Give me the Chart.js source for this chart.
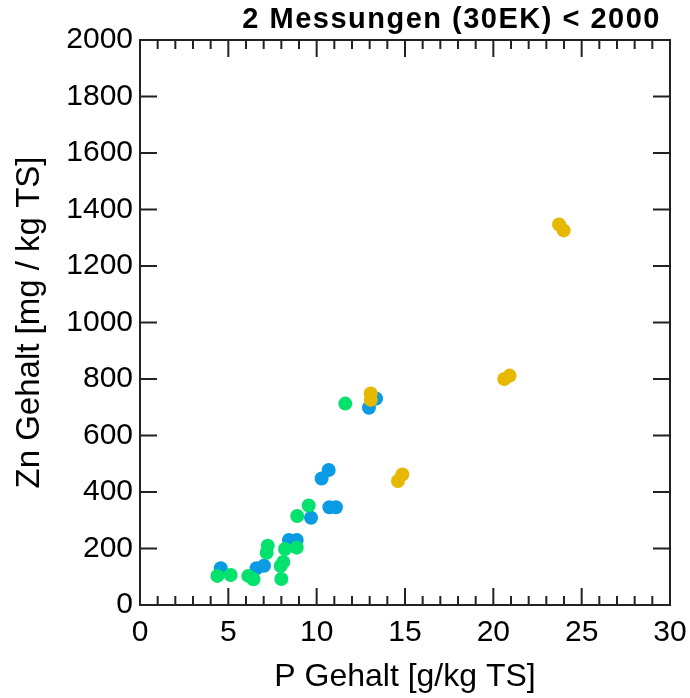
<!DOCTYPE html>
<html>
<head>
<meta charset="utf-8">
<script src="https://cdn.jsdelivr.net/npm/chart.js@4"></script>
<style>
  body{ margin:0; background:#fff; }
  #wrap{ width:690px; height:698px; }
</style>
</head>
<body>
<div id="wrap"><canvas id="chart" width="690" height="698"></canvas></div>
<script>
//--------------------------------------------------
// DATA
//--------------------------------------------------
const chartTitle = "2 Messungen (30EK) < 2000";
const xLabel = "P Gehalt [g/kg TS]";
const yLabel = "Zn Gehalt [mg / kg TS]";

const blueX = [4.57, 6.6, 7.02, 8.43, 8.87, 9.68, 10.28, 10.68, 10.72, 11.09, 12.96, 13.36];
const blueY = [130, 130, 139, 230, 230, 309, 448, 478, 346, 346, 698, 731];

const greenX = [4.38, 5.13, 6.13, 6.42, 7.17, 7.23, 7.96, 8.11, 8.0, 8.21, 8.87, 8.9, 9.55, 11.62];
const greenY = [103, 106, 103, 91, 185, 210, 138, 152, 92, 198, 203, 315, 352, 713];

const goldX = [13.06, 13.06, 14.6, 14.85, 20.62, 20.92, 23.72, 23.98];
const goldY = [749, 726, 439, 462, 800, 812, 1347, 1326];

const xTicks = [0, 5, 10, 15, 20, 25, 30];
const yTicks = [0, 200, 400, 600, 800, 1000, 1200, 1400, 1600, 1800, 2000];

//--------------------------------------------------
// HELPERS
//--------------------------------------------------
const FONT = "'Liberation Sans', Arial, sans-serif";

function pts(xs, ys){
  return xs.map((x,i)=>({x:x, y:ys[i]}));
}

function series(xs, ys, color, order){
  return {
    data: pts(xs, ys),
    backgroundColor: color,
    borderColor: color,
    pointRadius: 7,
    pointHoverRadius: 7,
    borderWidth: 0,
    order: order
  };
}

// frame, inward ticks and title
const framePlugin = {
  id: "frame",
  afterDraw(chart){
    const ctx = chart.ctx;
    const a = chart.chartArea;
    const xs = chart.scales.x, ys = chart.scales.y;
    ctx.save();
    ctx.strokeStyle = "#222";
    ctx.lineWidth = 2;
    ctx.strokeRect(a.left, a.top, a.right - a.left, a.bottom - a.top);

    ctx.beginPath();
    for(let v = 0; v <= 30; v++){
      const px = xs.getPixelForValue(v);
      const len = v % 5 === 0 ? 17 : 9;
      ctx.moveTo(px, a.bottom); ctx.lineTo(px, a.bottom - len);
      ctx.moveTo(px, a.top); ctx.lineTo(px, a.top + len);
    }
    yTicks.forEach(v=>{
      const py = ys.getPixelForValue(v);
      ctx.moveTo(a.left, py); ctx.lineTo(a.left + 17, py);
      ctx.moveTo(a.right, py); ctx.lineTo(a.right - 17, py);
    });
    ctx.stroke();

    ctx.fillStyle = "#000";
    ctx.font = "bold 29px " + FONT;
    ctx.letterSpacing = "1.5px";
    ctx.textAlign = "right";
    ctx.textBaseline = "alphabetic";
    ctx.fillText(chartTitle, 661, 28);
    ctx.restore();
  }
};

//--------------------------------------------------
// CHART
//--------------------------------------------------
new Chart(document.getElementById("chart"), {
  type: "scatter",
  data: {
    datasets: [
      series(blueX, blueY, "#0a9be2", 3),
      series(greenX, greenY, "#04e26e", 2),
      series(goldX, goldY, "#e6b800", 1)
    ]
  },
  options: {
    responsive: false,
    animation: false,
    layout: { padding: { top: 40, right: 20, left: 0, bottom: 0 } },
    plugins: {
      legend: { display: false },
      tooltip: { enabled: false },
      title: { display: false }
    },
    scales: {
      x: {
        type: "linear",
        min: 0, max: 30,
        afterFit: s => { s.height = 93; s.paddingLeft = 0; s.paddingRight = 0; },
        afterBuildTicks: s => { s.ticks = xTicks.map(v=>({value:v})); },
        grid: { display: false, drawTicks: false },
        border: { display: false },
        ticks: { color: "#000", font: { family: FONT, size: 30 }, padding: 10, maxRotation: 0, callback: v => String(v) },
        title: { display: true, text: xLabel, color: "#000", font: { family: FONT, size: 32 }, padding: { top: 0, bottom: 2 } }
      },
      y: {
        type: "linear",
        min: 0, max: 2000,
        afterFit: s => { s.width = 140; s.paddingTop = 0; s.paddingBottom = 0; },
        afterBuildTicks: s => { s.ticks = yTicks.map(v=>({value:v})); },
        grid: { display: false, drawTicks: false },
        border: { display: false },
        ticks: { color: "#000", font: { family: FONT, size: 30 }, padding: 7, callback: v => String(v) },
        title: { display: true, text: yLabel, color: "#000", font: { family: FONT, size: 33 }, padding: { top: 10, bottom: 0 } }
      }
    }
  },
  plugins: [framePlugin]
});
</script>
</body>
</html>
